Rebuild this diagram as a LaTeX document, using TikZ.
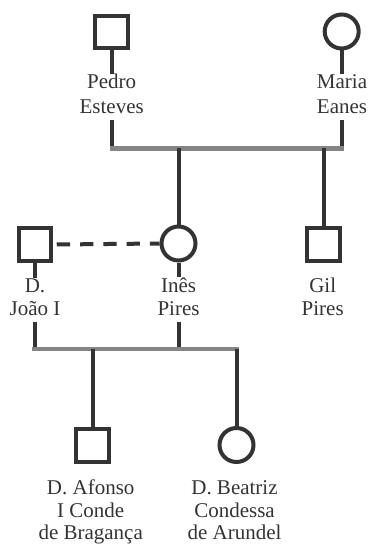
\documentclass[tikz,border=0pt]{standalone}
\usepackage{fontspec}
\setmainfont{Liberation Serif}
\definecolor{ink}{HTML}{333333}
\definecolor{barc}{HTML}{858585}
\newcommand\lowstrut{\rule[-7pt]{0pt}{7pt}}
\begin{document}
\begin{tikzpicture}[x=1pt,y=-1pt,
  line/.style={draw=ink,line width=4pt},
  dashline/.style={draw=ink,line width=4pt,dash pattern=on 13.3pt off 10pt},
  male/.style={draw=ink,line width=4pt,rectangle,minimum size=32.5pt,inner sep=0pt,fill=white},
  female/.style={draw=ink,line width=4pt,circle,minimum size=34pt,inner sep=0pt,fill=white},
  label text/.style={align=center,anchor=base,inner sep=0pt,text=ink,font=\fontsize{21}{23}\selectfont},
  sibbar/.style={draw=barc,line width=4.5pt},
]
\useasboundingbox (0,0) rectangle (369,545);

% generation 1
\node[male]   (pedro) at (111.7,32) {};
\node[female] (maria) at (341.7,31.5) {};
\node[label text] (pedrotxt) at (111.7,113.3) {Pedro\\[2pt]Esteves\lowstrut};
\node[label text] (mariatxt) at (342,113.3) {Maria\\[2pt]Eanes\lowstrut};
\coordinate (b1L) at (109.5,148.3);
\coordinate (b1R) at (344,148.3);
\draw[line] (pedro.south) -- (pedro.south |- pedrotxt.north);
\draw[line] (pedro.south |- pedrotxt.south) -- (pedro.south |- b1L);
\draw[line] (maria.south) -- (maria.south |- mariatxt.north);
\draw[line] (maria.south |- mariatxt.south) -- (maria.south |- b1L);
\draw[sibbar] (b1L) -- (b1R);

% generation 2
\node[male]   (joao) at (35,244.5) {};
\node[female] (ines) at (178.5,243.5) {};
\node[male]   (gil)  at (323.5,244.5) {};
\draw[line] (ines.north |- b1L) -- (ines.north);
\draw[line] (gil.north |- b1L) -- (gil.north);
\draw[dashline] ([xshift=3.5pt]joao.east) -- (ines.west);
\node[label text] (joaotxt) at (35,315) {D.\\João I\lowstrut};
\node[label text] (inestxt) at (178.5,315) {Inês\\Pires\lowstrut};
\node[label text] (giltxt)  at (322.7,315) {Gil\\Pires};
\coordinate (b2L) at (32,349);
\coordinate (b2R) at (239,349);
\draw[line] (joao.south) -- (joao.south |- joaotxt.north);
\draw[line] (joao.south |- joaotxt.south) -- (joao.south |- b2L);
\draw[line] (ines.south) -- (ines.south |- inestxt.north);
\draw[line] (ines.south |- inestxt.south) -- (ines.south |- b2L);
\draw[sibbar] (b2L) -- (b2R);

% generation 3
\node[male]   (afonso)  at (92.5,445.5) {};
\node[female] (beatriz) at (236.5,445) {};
\draw[line] (afonso.north |- b2L) -- (afonso.north);
\draw[line] (beatriz.north |- b2L) -- (beatriz.north);
\node[label text] (afonsotxt)  at (90.7,539.5) {D. Afonso\\[-0.5pt]I Conde\\[-0.5pt]de Bragança};
\node[label text] (beatriztxt) at (234.5,539.5) {D. Beatriz\\[-0.5pt]Condessa\\[-0.5pt]de Arundel};
\end{tikzpicture}
\end{document}
